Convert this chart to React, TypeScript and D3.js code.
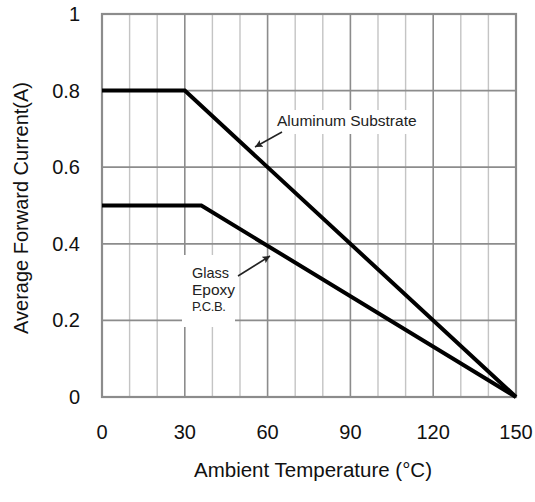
import React from "react";
import * as d3 from "d3";

// chart values
const xTicks = [0, 30, 60, 90, 120, 150];
const yTicks = [0, 0.2, 0.4, 0.6, 0.8, 1];
const yTickLabels = ["0", "0.2", "0.4", "0.6", "0.8", "1"];
const aluminumTemp = [0, 30, 150];
const aluminumCurrent = [0.8, 0.8, 0];
const glassTemp = [0, 36, 150];
const glassCurrent = [0.5, 0.5, 0];

const W = 535;
const H = 502;
const left = 102;
const right = 516;
const top = 14;
const bottom = 397;
const font = "'Liberation Sans', Arial, Helvetica, sans-serif";

export default function App() {
  const x = d3.scaleLinear().domain([0, 150]).range([left, right]);
  const y = d3.scaleLinear().domain([0, 1]).range([bottom, top]);

  const line = d3
    .line<[number, number]>()
    .x((d) => x(d[0]))
    .y((d) => y(d[1]));

  const alu = aluminumTemp.map((t, i) => [t, aluminumCurrent[i]] as [number, number]);
  const glass = glassTemp.map((t, i) => [t, glassCurrent[i]] as [number, number]);

  const minor = d3.range(0, 151, 10);

  return (
    <svg
      width={W}
      height={H}
      style={{ position: "absolute", left: 0, top: 0, background: "#fff" }}
      fontFamily={font}
    >
      <defs>
        <marker
          id="arr"
          viewBox="0 0 10 10"
          refX="10"
          refY="5"
          markerWidth="5"
          markerHeight="5"
          orient="auto"
        >
          <path d="M0,0 L10,5 L0,10 L2,5 Z" fill="#222" />
        </marker>
      </defs>

      {/* vertical grid */}
      {minor.map((v) => (
        <line
          key={"v" + v}
          x1={x(v)}
          x2={x(v)}
          y1={top}
          y2={bottom}
          stroke={v % 30 === 0 ? "#8c8c8c" : "#c4c4c4"}
          strokeWidth={v % 30 === 0 ? 1.6 : 1.4}
        />
      ))}
      {/* horizontal grid */}
      {yTicks.map((v) => (
        <line
          key={"h" + v}
          x1={left}
          x2={right}
          y1={y(v)}
          y2={y(v)}
          stroke="#8c8c8c"
          strokeWidth={1.8}
        />
      ))}
      <rect
        x={left}
        y={top}
        width={right - left}
        height={bottom - top}
        fill="none"
        stroke="#8c8c8c"
        strokeWidth={2.2}
      />

      {/* annotation backgrounds */}
      <rect x={271} y={110} width={149} height={24} fill="#fff" />
      <rect x={182} y={255} width={53} height={72} fill="#fff" />

      <path d={line(alu) || ""} fill="none" stroke="#000" strokeWidth={4} strokeLinejoin="miter" />
      <path d={line(glass) || ""} fill="none" stroke="#000" strokeWidth={4} strokeLinejoin="miter" />

      {/* annotations */}
      <text x={277} y={126} fontSize={15.5} fill="#222">
        Aluminum Substrate
      </text>
      <line x1={282} y1={132} x2={255} y2={147} stroke="#222" strokeWidth={1.5} markerEnd="url(#arr)" />

      <text x={192} y={278} fontSize={14.5} fill="#222">
        Glass
      </text>
      <text x={192} y={295} fontSize={15.5} fill="#222">
        Epoxy
      </text>
      <text x={192} y={311} fontSize={13} fill="#222" letterSpacing={-0.4}>
        P.C.B.
      </text>
      <line x1={238} y1={276} x2={270} y2={256} stroke="#222" strokeWidth={1.5} markerEnd="url(#arr)" />

      {/* tick labels */}
      {yTicks.map((v, i) => (
        <text
          key={"yl" + v}
          x={80}
          y={y(v)}
          dy="0.35em"
          textAnchor="end"
          fontSize={20}
          fill="#111"
        >
          {yTickLabels[i]}
        </text>
      ))}
      {xTicks.map((v) => (
        <text
          key={"xl" + v}
          x={x(v)}
          y={439}
          textAnchor="middle"
          fontSize={20}
          fill="#111"
        >
          {v}
        </text>
      ))}

      <text x={(left + right) / 2 + 4} y={477} textAnchor="middle" fontSize={20.5} fill="#111">
        Ambient Temperature (°C)
      </text>
      <text
        transform="translate(28,208) rotate(-90)"
        textAnchor="middle"
        fontSize={20}
        fill="#111"
      >
        Average Forward Current(A)
      </text>
    </svg>
  );
}
